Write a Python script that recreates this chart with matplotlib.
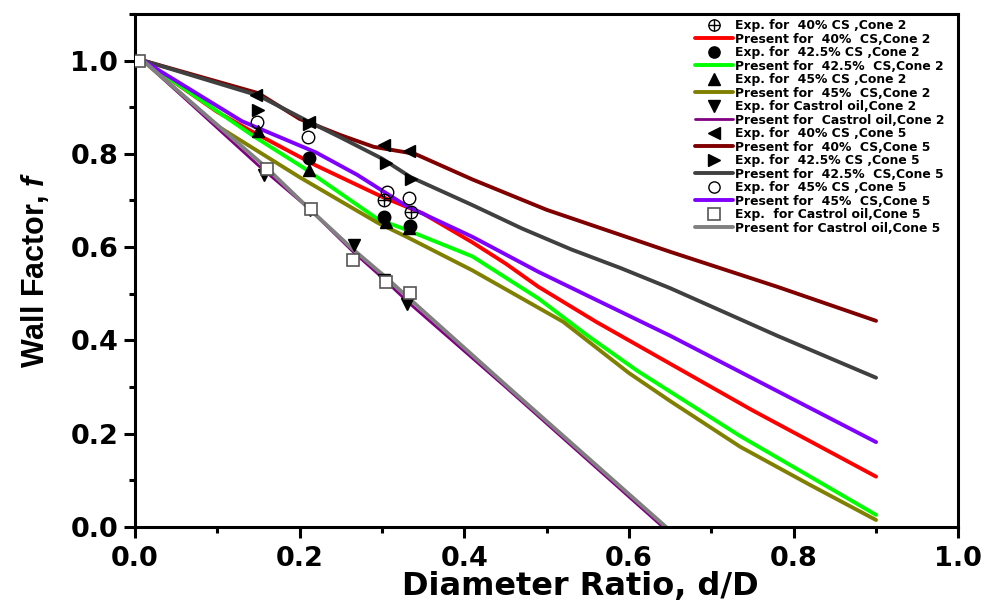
import matplotlib
matplotlib.use("Agg")
import matplotlib.pyplot as plt
from matplotlib.ticker import MultipleLocator

# ---- Experimental wall factors, cone 2 ----
exp40_c2_x = [0.302, 0.335]
exp40_c2_y = [0.700, 0.676]
exp425_c2_x = [0.212, 0.303, 0.334]
exp425_c2_y = [0.790, 0.665, 0.646]
exp45_c2_x = [0.149, 0.211, 0.305, 0.333]
exp45_c2_y = [0.848, 0.766, 0.654, 0.642]
expoil_c2_x = [0.157, 0.213, 0.266, 0.303, 0.331]
expoil_c2_y = [0.755, 0.680, 0.605, 0.530, 0.478]

# ---- Experimental wall factors, cone 5 ----
exp40_c5_x = [0.147, 0.211, 0.302, 0.333]
exp40_c5_y = [0.927, 0.869, 0.818, 0.805]
exp425_c5_x = [0.150, 0.211, 0.305, 0.335]
exp425_c5_y = [0.893, 0.863, 0.781, 0.745]
exp45_c5_x = [0.148, 0.210, 0.306, 0.333]
exp45_c5_y = [0.869, 0.837, 0.719, 0.706]
expoil_c5_x = [0.005, 0.161, 0.214, 0.265, 0.305, 0.334]
expoil_c5_y = [1.000, 0.768, 0.682, 0.573, 0.526, 0.502]

# ---- Present model, cone 2 ----
pr40_c2_x = [0.01, 0.10, 0.14, 0.22, 0.30, 0.35, 0.41, 0.45, 0.49, 0.56, 0.63, 0.75, 0.90]
pr40_c2_y = [1.00, 0.89, 0.85, 0.775, 0.708, 0.672, 0.61, 0.565, 0.515, 0.44, 0.37, 0.25, 0.108]
pr425_c2_x = [0.01, 0.145, 0.205, 0.295, 0.33, 0.41, 0.49, 0.55, 0.61, 0.735, 0.90]
pr425_c2_y = [1.00, 0.837, 0.77, 0.66, 0.637, 0.58, 0.49, 0.41, 0.335, 0.195, 0.026]
pr45_c2_x = [0.01, 0.10, 0.20, 0.295, 0.33, 0.41, 0.47, 0.52, 0.56, 0.60, 0.65, 0.735, 0.82, 0.90]
pr45_c2_y = [1.00, 0.86, 0.75, 0.652, 0.622, 0.55, 0.49, 0.44, 0.385, 0.33, 0.27, 0.172, 0.09, 0.015]
proil_c2_x = [0.01, 0.15, 0.21, 0.265, 0.30, 0.333, 0.45, 0.641]
proil_c2_y = [1.00, 0.775, 0.685, 0.59, 0.535, 0.48, 0.30, 0.0]

# ---- Present model, cone 5 ----
pr40_c5_x = [0.01, 0.10, 0.15, 0.20, 0.25, 0.29, 0.34, 0.41, 0.50, 0.65, 0.78, 0.90]
pr40_c5_y = [1.00, 0.955, 0.93, 0.875, 0.84, 0.815, 0.80, 0.745, 0.68, 0.59, 0.515, 0.442]
pr425_c5_x = [0.01, 0.15, 0.21, 0.25, 0.30, 0.335, 0.41, 0.47, 0.53, 0.59, 0.65, 0.71, 0.78, 0.84, 0.90]
pr425_c5_y = [1.00, 0.925, 0.87, 0.835, 0.79, 0.75, 0.69, 0.64, 0.595, 0.555, 0.512, 0.465, 0.41, 0.365, 0.32]
pr45_c5_x = [0.01, 0.13, 0.22, 0.27, 0.33, 0.41, 0.49, 0.65, 0.90]
pr45_c5_y = [1.00, 0.87, 0.803, 0.755, 0.688, 0.622, 0.547, 0.41, 0.182]
proil_c5_x = [0.01, 0.16, 0.21, 0.265, 0.305, 0.333, 0.45, 0.645]
proil_c5_y = [1.00, 0.77, 0.685, 0.595, 0.535, 0.49, 0.305, 0.0]

x_ticks = [0.0, 0.2, 0.4, 0.6, 0.8, 1.0]
y_ticks = [0.0, 0.2, 0.4, 0.6, 0.8, 1.0]

plt.rcParams["font.family"] = ["DejaVu Sans"]
plt.rcParams["font.weight"] = "bold"
plt.rcParams["mathtext.fontset"] = "custom"
plt.rcParams["mathtext.bfit"] = "Liberation Sans:italic:bold"

fig = plt.figure(figsize=(9.84, 6.04), dpi=100)
ax = fig.add_axes([0.137, 0.1275, 0.837, 0.8495])

lw = 2.8
ms = 9

lines = {}
def curve(key, x, y, color, width=lw):
    lines[key], = ax.plot(x, y, color=color, lw=width,
                          solid_capstyle="round", solid_joinstyle="round")

curve("p40c2", pr40_c2_x, pr40_c2_y, "#ff0000")
curve("p425c2", pr425_c2_x, pr425_c2_y, "#00ff00")
curve("p45c2", pr45_c2_x, pr45_c2_y, "#808000")
curve("p40c5", pr40_c5_x, pr40_c5_y, "#800000")
curve("p425c5", pr425_c5_x, pr425_c5_y, "#404040")
curve("p45c5", pr45_c5_x, pr45_c5_y, "#8000ff")
curve("poilc2", proil_c2_x, proil_c2_y, "#800080", width=2.0)
curve("poilc5", proil_c5_x, proil_c5_y, "#808080")

mk = dict(ls="none", ms=ms, zorder=5)
# circle with a cross: an open circle overlaid with a plus sign
ring, = ax.plot(exp40_c2_x, exp40_c2_y, marker="o", mfc="none", mec="black", mew=1.0, **mk)
cross, = ax.plot(exp40_c2_x, exp40_c2_y, marker="+", color="black", mew=1.0, ls="none",
                 ms=ms, zorder=5)
lines["e40c2"] = (ring, cross)
lines["e425c2"], = ax.plot(exp425_c2_x, exp425_c2_y, marker="o", color="black", **mk)
lines["e45c2"], = ax.plot(exp45_c2_x, exp45_c2_y, marker="^", color="black", **mk)
lines["eoilc2"], = ax.plot(expoil_c2_x, expoil_c2_y, marker="v", color="black", **mk)
lines["e40c5"], = ax.plot(exp40_c5_x, exp40_c5_y, marker="<", color="black", **mk)
lines["e425c5"], = ax.plot(exp425_c5_x, exp425_c5_y, marker=">", color="black", **mk)
lines["e45c5"], = ax.plot(exp45_c5_x, exp45_c5_y, marker="o", mfc="none", mec="black", mew=1.0, **mk)
lines["eoilc5"], = ax.plot(expoil_c5_x, expoil_c5_y, marker="s", mfc="white", mec="#555555", mew=1.2, **mk)

order = [
    ("e40c2", "Exp. for  40% CS ,Cone 2"),
    ("p40c2", "Present for  40%  CS,Cone 2"),
    ("e425c2", "Exp. for  42.5% CS ,Cone 2"),
    ("p425c2", "Present for  42.5%  CS,Cone 2"),
    ("e45c2", "Exp. for  45% CS ,Cone 2"),
    ("p45c2", "Present for  45%  CS,Cone 2"),
    ("eoilc2", "Exp. for Castrol oil,Cone 2"),
    ("poilc2", "Present for  Castrol oil,Cone 2"),
    ("e40c5", "Exp. for  40% CS ,Cone 5"),
    ("p40c5", "Present for  40%  CS,Cone 5"),
    ("e425c5", "Exp. for  42.5% CS ,Cone 5"),
    ("p425c5", "Present for  42.5%  CS,Cone 5"),
    ("e45c5", "Exp. for  45% CS ,Cone 5"),
    ("p45c5", "Present for  45%  CS,Cone 5"),
    ("eoilc5", "Exp.  for Castrol oil,Cone 5"),
    ("poilc5", "Present for Castrol oil,Cone 5"),
]
leg = fig.legend([lines[k] for k, _ in order], [t for _, t in order],
                 loc="upper left", bbox_to_anchor=(0.706, 0.968),
                 frameon=False, prop=dict(family="DejaVu Sans", weight="bold", size=8.9),
                 handlelength=3.1, handletextpad=0.15, labelspacing=0.04,
                 borderpad=0, borderaxespad=0, markerscale=0.9)

ax.set_xlim(0, 1.0)
ax.set_ylim(0, 1.1)
ax.set_xticks(x_ticks)
ax.set_yticks(y_ticks)
ax.set_xticklabels([f"{v:.1f}" for v in x_ticks])
ax.set_yticklabels([f"{v:.1f}" for v in y_ticks])
ax.xaxis.set_minor_locator(MultipleLocator(0.1))
ax.yaxis.set_minor_locator(MultipleLocator(0.1))
ax.tick_params(which="major", direction="out", length=8, width=2.2, labelsize=19.5, pad=4)
ax.tick_params(which="minor", direction="out", length=4.5, width=2.2)
ax.tick_params(axis="x", which="major", pad=6)
ax.tick_params(top=False, right=False, which="both")
for s in ax.spines.values():
    s.set_linewidth(2.2)

ax.set_xlabel("Diameter Ratio, d/D", fontsize=23, fontweight="bold")
ax.xaxis.set_label_coords(0.541, -0.086)
ax.set_ylabel(r"Wall Factor, $\mathbfit{f}$", fontsize=22, fontweight="bold",
              family=["Liberation Sans"], labelpad=14)

fig.savefig("out.png", dpi=100)
